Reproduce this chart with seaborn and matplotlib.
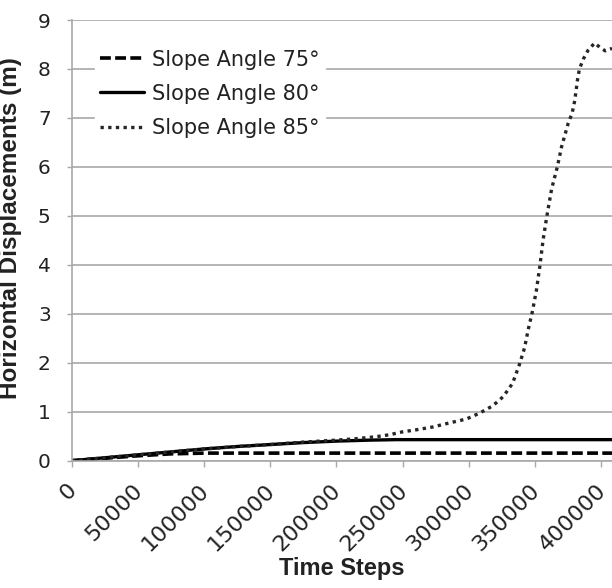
import matplotlib
matplotlib.use("Agg")
import matplotlib.pyplot as plt
import matplotlib.transforms as mtransforms
import numpy as np
import pandas as pd
import seaborn as sns

# Horizontal displacement histories for three slope angles
steps_75 = [0, 25000, 50000, 75000, 100000, 150000, 200000, 250000, 300000, 350000, 408100]
disp_75 = [0.0, 0.05, 0.10, 0.14, 0.155, 0.155, 0.155, 0.155, 0.155, 0.155, 0.155]

steps_80 = [0, 25000, 50000, 75000, 100000, 125000, 150000, 175000, 200000, 225000,
            245000, 300000, 350000, 408100]
disp_80 = [0.0, 0.06, 0.12, 0.18, 0.24, 0.29, 0.33, 0.37, 0.40, 0.42,
           0.43, 0.43, 0.43, 0.43]

steps_85 = [0, 25000, 50000, 75000, 100000, 125000, 150000, 175000, 200000, 215000,
            230000, 240000, 250000, 260000, 273000, 285000, 298000, 308000, 318000,
            326000, 333000, 338000, 342000, 345000, 348000, 351000, 353700, 356000,
            358800, 362500, 366800, 370000, 375000, 378000, 380000, 382000, 383500,
            386400, 390000, 395000, 399000, 403000, 408100]
disp_85 = [0.0, 0.06, 0.12, 0.18, 0.24, 0.29, 0.33, 0.38, 0.42, 0.45,
           0.49, 0.53, 0.59, 0.63, 0.69, 0.77, 0.85, 0.97, 1.12,
           1.31, 1.58, 1.95, 2.30, 2.70, 3.05, 3.48, 3.99, 4.50,
           4.98, 5.55, 6.00, 6.41, 6.89, 7.10, 7.36, 7.77, 8.00,
           8.20, 8.38, 8.53, 8.44, 8.37, 8.42]

series_labels = ["Slope Angle 75°", "Slope Angle 80°", "Slope Angle 85°"]
x_ticks = list(range(0, 400001, 50000))
x_tick_labels = [str(t) for t in x_ticks]
y_ticks = list(range(0, 10))

sns.set_theme(style="white")
plt.rcParams["font.family"] = ["DejaVu Sans"]

W, H = 612, 588
fig = plt.figure(figsize=(W / 100, H / 100), dpi=100)
x0, x1, ytop, ybot = 71.7, 612.0, 20.0, 460.7
ax = fig.add_axes([x0 / W, 1 - ybot / H, (x1 - x0) / W, (ybot - ytop) / H])

grid_col = "#a8a8a8"
ax.set_axisbelow(True)
ax.yaxis.grid(True, color=grid_col, linewidth=1.2)
ax.xaxis.grid(False)

df75 = pd.DataFrame({"step": steps_75, "disp": disp_75})
df80 = pd.DataFrame({"step": steps_80, "disp": disp_80})
df85 = pd.DataFrame({"step": steps_85, "disp": disp_85})

sns.lineplot(data=df75, x="step", y="disp", ax=ax, color="black",
             linewidth=2.6, linestyle=(0, (3.0, 1.2)), label=series_labels[0])
sns.lineplot(data=df80, x="step", y="disp", ax=ax, color="black",
             linewidth=2.4, linestyle="-", label=series_labels[1])
sns.lineplot(data=df85, x="step", y="disp", ax=ax, color="#262626",
             linewidth=2.4, linestyle=(0, (1, 1.3)), label=series_labels[2])

ax.set_xlim(0, 408100)
ax.set_ylim(0, 9)

for side in ["top", "right"]:
    ax.spines[side].set_visible(False)
for side in ["left", "bottom"]:
    ax.spines[side].set_color(grid_col)
    ax.spines[side].set_linewidth(1.2)

ax.set_yticks(y_ticks)
ax.set_yticklabels([str(t) for t in y_ticks])
ax.set_xticks(x_ticks)
ax.set_xticklabels(x_tick_labels)

ax.tick_params(axis="y", which="major", left=True, direction="out", length=3.6,
               width=1.0, color=grid_col, pad=11.5, labelsize=14.5, labelcolor="#222222")
ax.tick_params(axis="x", which="major", bottom=True, direction="out", length=4.3,
               width=1.0, color=grid_col, pad=14.6, labelsize=16, labelcolor="#222222")
shift = mtransforms.ScaledTranslation(1.5 / 100, 0, fig.dpi_scale_trans)
for lbl in ax.get_xticklabels():
    lbl.set_rotation(45)
    lbl.set_ha("right")
    lbl.set_va("center")
    lbl.set_rotation_mode("anchor")
    lbl.set_transform(lbl.get_transform() + shift)

ax.set_xlabel("Time Steps", family=["Liberation Sans", "DejaVu Sans"],
              fontweight="bold", fontsize=17, color="#222222")
ax.set_ylabel("Horizontal Displacements (m)", family=["Liberation Sans", "DejaVu Sans"],
              fontweight="bold", fontsize=17.5, color="#222222")
ax.xaxis.set_label_coords(0.5003, -0.219)
ax.yaxis.set_label_coords((22 - x0) / (x1 - x0), 0.527)

leg = ax.legend(loc="upper left", bbox_to_anchor=((95 - x0) / (x1 - x0), (ybot - 44.4) / (ybot - ytop)),
                borderaxespad=0, borderpad=0.25, frameon=True, fancybox=False,
                facecolor="white", edgecolor="white", framealpha=1,
                fontsize=15, handlelength=2.1, handletextpad=0.39, labelspacing=0.68)
for t in leg.get_texts():
    t.set_color("#222222")

fig.savefig("out.png", dpi=100, facecolor="white")
